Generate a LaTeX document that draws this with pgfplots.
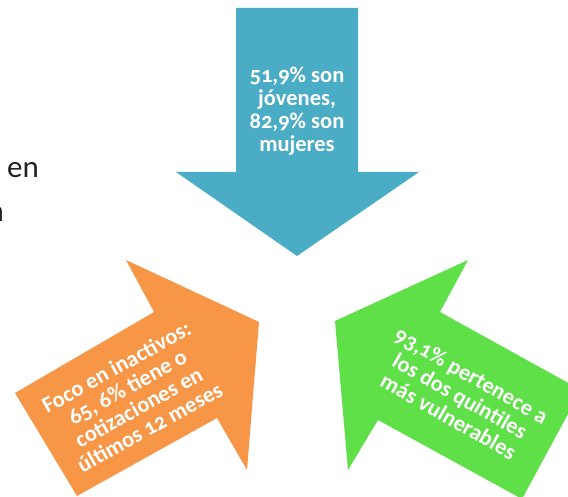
\documentclass[border=0pt]{standalone}
\usepackage{fontspec}
\setmainfont{Carlito}[Numbers=OldStyle]
\usepackage{pgfplots}
\pgfplotsset{compat=1.18}

\definecolor{arrowblue}{HTML}{4BACC6}
\definecolor{arroworange}{HTML}{F79646}
\definecolor{arrowgreen}{HTML}{5FE048}
\definecolor{bodytext}{HTML}{222222}

\begin{document}
\begin{tikzpicture}
  \begin{axis}[
    width=568pt, height=497pt, scale only axis,
    xmin=0, xmax=568, ymin=0, ymax=497,
    y dir=reverse,
    hide axis,
    clip=true,
  ]
    % blue arrow, pointing down
    \addplot[draw=none, fill=arrowblue] coordinates {
      (236,8) (358,8) (358,172) (419,172) (297,256) (176,172) (236,172)
    } -- cycle;
    % orange arrow, pointing up-right
    \addplot[draw=none, fill=arroworange] coordinates {
      (15,393) (154,312) (126,260) (259,322) (247,470) (217,418) (77,496)
    } -- cycle;
    % green arrow, pointing up-left
    \addplot[draw=none, fill=arrowgreen] coordinates {
      (335,321) (468,260) (440,312) (581,390) (522,499) (378,420) (348,470)
    } -- cycle;

    \node[white, font=\fontsize{22.5}{23}\selectfont\bfseries, align=center]
      at (axis cs:297,111) {51,9\% son\\jóvenes,\\82,9\% son\\mujeres};
    \node[white, font=\fontsize{22.5}{23}\selectfont\bfseries, align=center, rotate=29]
      at (axis cs:133,397) {Foco en inactivos:\\65, 6\% tiene o\\cotizaciones en\\últimos 12 meses};
    \node[white, font=\fontsize{22.5}{23.5}\selectfont\bfseries, align=center, rotate=-29.5]
      at (axis cs:460,396) {93,1\% pertenece a\\los dos quintiles\\más vulnerables};

    \node[bodytext, font=\fontsize{31}{34}\selectfont, anchor=base west, inner sep=0pt]
      at (axis cs:7,178) {en};
    \node[bodytext, font=\fontsize{31}{34}\selectfont, anchor=base east, inner sep=0pt]
      at (axis cs:4,222) {n};
  \end{axis}
  \pgfresetboundingbox
  \path[use as bounding box] (current axis.south west) rectangle (current axis.north east);
\end{tikzpicture}
\end{document}
